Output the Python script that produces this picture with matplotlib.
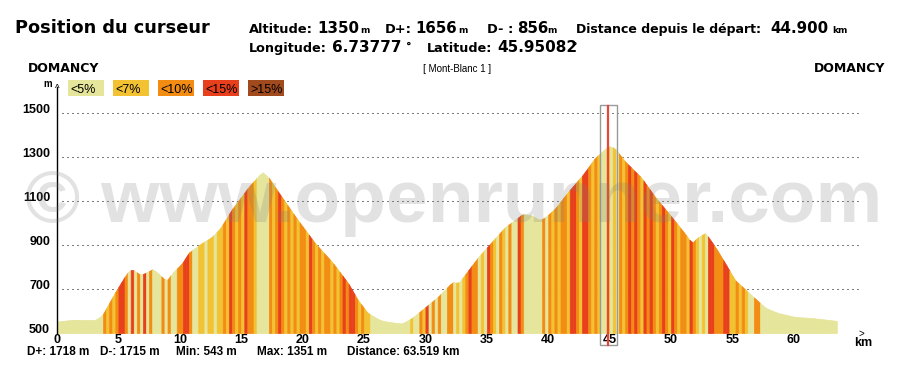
import numpy as np
import matplotlib
matplotlib.use('Agg')
import matplotlib.pyplot as plt
from matplotlib.patches import Rectangle
from matplotlib.transforms import ScaledTranslation

# Profil altimetrique (distance en km, altitude en m)
km = [0, 1.3, 3.1, 3.7, 4.7, 5.7, 6.1, 6.8, 7.2, 7.8, 8.2, 8.9, 9.4, 10.2, 10.7,
      11.8, 12.6, 13.3, 14.2, 15.6, 16.7, 17.2, 18.3, 19.6, 21.0, 22.4, 23.7,
      24.5, 25.3, 26.3, 27.0, 28.1, 28.9, 30.0, 31.0, 32.2, 32.7, 33.5, 34.3,
      35.4, 36.5, 37.3, 37.9, 38.6, 39.3, 39.7, 40.6, 41.6, 42.8, 43.8, 44.9,
      45.4, 46.3, 47.6, 48.7, 49.8, 50.9, 51.7, 52.2, 52.8, 53.6, 54.4, 55.2,
      56.0, 56.8, 57.7, 58.7, 60.1, 61.5, 63.519]
alt = [552, 560, 558, 582, 682, 773, 791, 764, 773, 791, 773, 736, 773, 818, 864,
       909, 936, 977, 1059, 1164, 1232, 1209, 1118, 1014, 909, 823, 727,
       650, 591, 559, 550, 543, 568, 618, 664, 732, 727, 786, 845,
       914, 982, 1014, 1041, 1035, 1014, 1023, 1068, 1141, 1218, 1295, 1350,
       1341, 1277, 1205, 1118, 1045, 968, 909, 936, 955, 891, 818, 741,
       700, 659, 614, 591, 573, 568, 555]

# classe de pente par tranche de 250 m (0:<5% 1:<7% 2:<10% 3:<15% 4:>15%)
pentes = (
    "0000" "0000" "0000" "0002" "1212"
    "3320" "3020" "3020" "0020" "2002"
    "2332" "0011" "0110" "1121" "3212"
    "1322" "1000" "0212" "3212" "1212"
    "2132" "1212" "2121" "2323" "3212"
    "1100" "0000" "0000" "0001" "0021"
    "3020" "2002" "2010" "1232" "2010"
    "3210" "2102" "0032" "0000" "0020"
    "2121" "2213" "3213" "3212" "1001"
    "0102" "1232" "3213" "2321" "2321"
    "3212" "2132" "1010" "3322" "2331"
    "1212" "1002" "2000" "0000" "0000"
    "0000" "0000" "0000" "00"
)
pas = 0.25

legende = ['<5%', '<7%', '<10%', '<15%', '>15%']
couleurs = ['#E5E59B', '#F2C233', '#F28C13', '#E8401C', '#A04A1E']

yticks = [500, 700, 900, 1100, 1300, 1500]
xticks = list(range(0, 61, 5))
curseur_km = 44.9

W, H = 901, 367
fig = plt.figure(figsize=(W / 100, H / 100), dpi=100)
ax = fig.add_axes([57 / W, 34 / H, 805 / W, 246 / H])
ax.set_xlim(0, 65.55)
ax.set_ylim(500, 1618)

# lignes de grille pointillees
ax.hlines(yticks[1:], 0.4, 65.55, colors='black', linestyles=(0, (1, 4)), lw=0.72, zorder=1)
ax.hlines([500], 0, 65.55, colors='black', linestyles=(0, (1, 4)), lw=0.72, zorder=1)

# remplissage colore par classe de pente
for i, c in enumerate(pentes):
    x0 = i * pas
    x1 = min((i + 1) * pas, km[-1])
    e = np.interp([x0, x1], km, alt)
    ax.fill_between([x0, x1], e, 500, color=couleurs[int(c)], lw=0.5, zorder=2)

# curseur
ax.add_patch(Rectangle((curseur_km - 0.7, 445), 1.4, 1091, fill=False,
                       edgecolor='#999999', lw=1, clip_on=False, zorder=5))
ax.plot([curseur_km, curseur_km], [445, 1533], color='#E8463A', lw=1.6,
        clip_on=False, zorder=6)

for s in ['top', 'right', 'bottom']:
    ax.spines[s].set_visible(False)
ax.spines['left'].set_linewidth(1.0)
ax.spines['left'].set_zorder(4)

ax.set_yticks(yticks)
ax.set_yticklabels([str(v) for v in yticks], fontsize=9, fontweight='bold', family='Liberation Sans')
ax.set_xticks(xticks)
ax.set_xticklabels([str(v) for v in xticks], fontsize=9, fontweight='bold', family='Liberation Sans')
ax.tick_params(axis='y', length=0, pad=5)
ax.tick_params(axis='x', length=0, pad=1)
for lab in ax.get_yticklabels():
    lab.set_transform(lab.get_transform() + ScaledTranslation(0, 3.2 / 72, fig.dpi_scale_trans))


def txt(x, y, s, size, weight='bold', family='DejaVu Sans', ha='left', **kw):
    fig.text(x / W, 1 - y / H, s, fontsize=size, fontweight=weight, family=family,
             ha=ha, va='baseline', **kw)


# en-tete
txt(15, 33, 'Position du curseur', 12.8)
txt(249, 33, 'Altitude:', 9.4)
txt(317, 33, '1350', 10.8)
txt(360, 33, 'm', 6.5)
txt(385, 33, 'D+:', 9.4)
txt(415, 33, '1656', 10.8)
txt(458, 33, 'm', 6.5)
txt(487, 33, 'D- :', 9.4)
txt(517, 33, '856', 10.8)
txt(547, 33, 'm', 6.5)
txt(576, 33, 'Distance depuis le départ:', 9.0)
txt(770, 33, '44.900', 10.8)
txt(832, 33, 'km', 6.5)
txt(249, 52, 'Longitude:', 9.2)
txt(332, 52, '6.73777', 11)
txt(406, 50, '°', 8)
txt(427, 52, 'Latitude:', 9.2)
txt(497, 52, '45.95082', 11)
txt(572, 50, '°', 8)

txt(28, 72, 'DOMANCY', 9)
txt(885, 72, 'DOMANCY', 9, ha='right')
txt(457, 72, '[ Mont-Blanc 1 ]', 7, weight='normal', family='Liberation Sans', ha='center')

# legende des pentes
for i, (lab, col) in enumerate(zip(legende, couleurs)):
    x0 = 68 + 45 * i
    fig.add_artist(Rectangle((x0 / W, 1 - 96 / H), 36 / W, 16 / H, facecolor=col,
                             edgecolor='none', transform=fig.transFigure))
    txt(x0 + 2, 93, lab, 9, weight='normal', family='Liberation Sans')

txt(43, 87, 'm', 7, family='Liberation Sans')
txt(57.5, 92, '^', 7, weight='normal', family='Liberation Sans', ha='center')
txt(863, 346, 'km', 9, family='Liberation Sans', ha='center')
txt(864, 337, '>', 7, weight='normal', family='Liberation Sans', ha='right')

# statistiques
txt(27, 355, 'D+: 1718 m', 8.5, family='Liberation Sans')
txt(100, 355, 'D-: 1715 m', 8.5, family='Liberation Sans')
txt(176, 355, 'Min: 543 m', 8.5, family='Liberation Sans')
txt(257, 355, 'Max: 1351 m', 8.5, family='Liberation Sans')
txt(347, 355, 'Distance: 63.519 km', 8.5, family='Liberation Sans')

# filigrane
txt(25, 222, '© www.openrunner.com', 54, family='Liberation Sans', color='#7f7f7f',
    alpha=0.22, zorder=10)

fig.savefig('out.png', dpi=100)
